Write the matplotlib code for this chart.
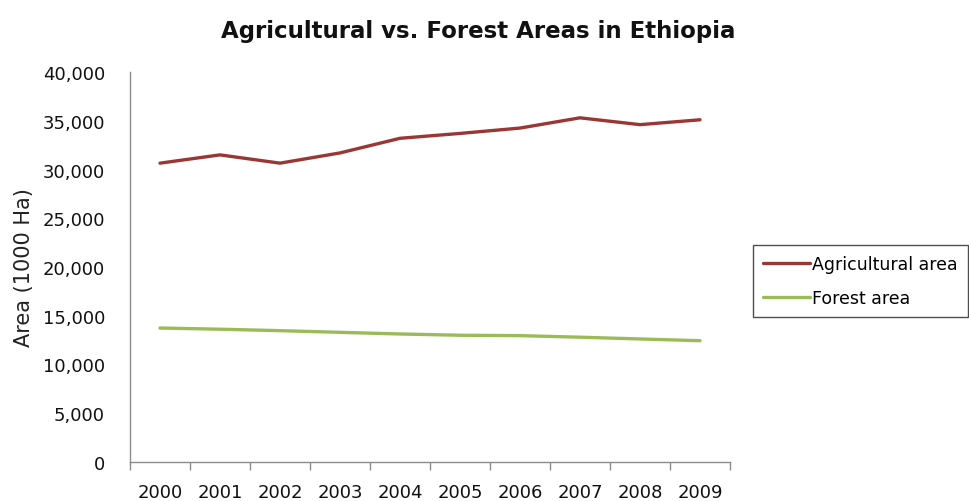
import matplotlib.pyplot as plt
from matplotlib.ticker import FuncFormatter, FixedLocator

# data
years = ['2000', '2001', '2002', '2003', '2004', '2005', '2006', '2007', '2008', '2009']
agri_area = [30650, 31500, 30650, 31700, 33200, 33700, 34250, 35300, 34600, 35100]
forest_area = [13740, 13620, 13470, 13300, 13130, 13000, 12960, 12800, 12620, 12440]

COL_AGRI = '#9a3735'
COL_FOREST = '#9bbb59'
AXIS_COL = '#8c8c8c'

fig = plt.figure(figsize=(9.7, 5.02), dpi=100)
ax = fig.add_axes([130 / 970, 39 / 502, 600 / 970, 390 / 502])

x = list(range(len(years)))
ax.plot(x, agri_area, '-', color=COL_AGRI, lw=2.4, label='Agricultural area', solid_capstyle='round')
ax.plot(x, forest_area, '-', color=COL_FOREST, lw=2.4, label='Forest area', solid_capstyle='round')

ax.set_xlim(-0.5, len(years) - 0.5)
ax.set_ylim(0, 40000)
ax.set_yticks(range(0, 40001, 5000))
ax.yaxis.set_major_formatter(FuncFormatter(lambda v, p: '{:,.0f}'.format(v)))

# category labels at centres, tick marks at the boundaries
ax.set_xticks(x)
ax.set_xticklabels(years)
ax.xaxis.set_minor_locator(FixedLocator([i - 0.5 for i in range(len(years) + 1)]))
ax.tick_params(axis='x', which='major', length=0, pad=15, labelsize=13, colors='#111111')
ax.tick_params(axis='x', which='minor', length=6, color=AXIS_COL, width=1)
ax.tick_params(axis='y', length=0, pad=18, labelsize=13, colors='#111111')

for s in ['top', 'right']:
    ax.spines[s].set_visible(False)
for s in ['left', 'bottom']:
    ax.spines[s].set_color(AXIS_COL)
    ax.spines[s].set_linewidth(1)

ax.set_ylabel('Area (1000 Ha)', fontsize=15, color='#222222', labelpad=6)

fig.text(478 / 970, 1 - 32 / 502, 'Agricultural vs. Forest Areas in Ethiopia',
         ha='center', va='center', fontsize=16.5, fontweight='bold', color='#111111')

leg = fig.legend(loc='center left', bbox_to_anchor=(753 / 970, 1 - 282 / 502),
                 fontsize=12.5, frameon=True, fancybox=False, handlelength=2.7,
                 handletextpad=0.1, borderpad=0.6, labelspacing=0.9, borderaxespad=0)
leg.get_frame().set_edgecolor('#222222')
leg.get_frame().set_linewidth(1)

fig.savefig('out.png', dpi=100)
